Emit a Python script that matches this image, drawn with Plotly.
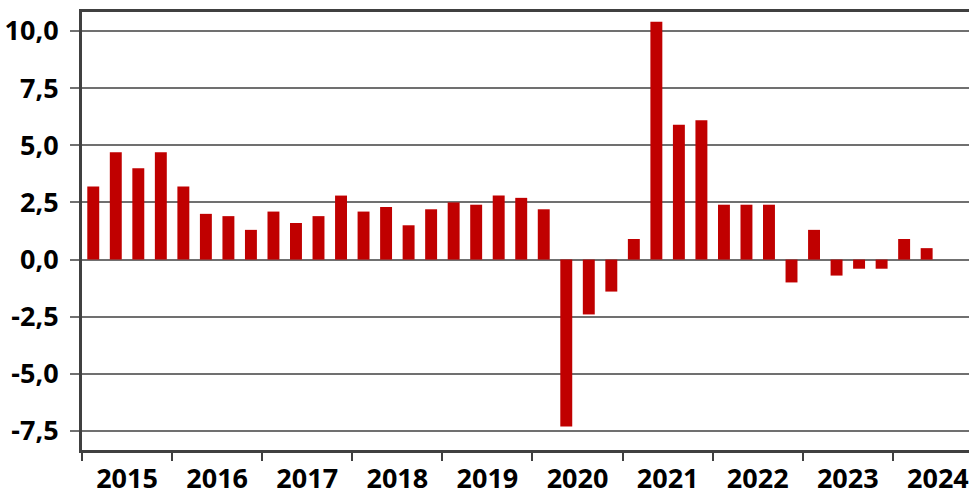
import plotly.graph_objects as go

# quarterly growth, 2015 Q1 .. 2024 Q2
years = [2015, 2016, 2017, 2018, 2019, 2020, 2021, 2022, 2023, 2024]
values = [
    3.2, 4.7, 4.0, 4.7,
    3.2, 2.0, 1.9, 1.3,
    2.1, 1.6, 1.9, 2.8,
    2.1, 2.3, 1.5, 2.2,
    2.5, 2.4, 2.8, 2.7,
    2.2, -7.3, -2.4, -1.4,
    0.9, 10.4, 5.9, 6.1,
    2.4, 2.4, 2.4, -1.0,
    1.3, -0.7, -0.4, -0.4,
    0.9, 0.5,
]
y_ticks = [-7.5, -5.0, -2.5, 0.0, 2.5, 5.0, 7.5, 10.0]

quarter_idx = list(range(len(values)))
year_centers = [i * 4 + 1.5 for i in range(len(years))]
y_text = [f"{v:.1f}".replace(".", ",") for v in y_ticks]

font = dict(family="Noto Sans", size=27, color="black")
axis_col = "#404040"
grid_col = "#707070"

fig = go.Figure(go.Bar(
    x=quarter_idx, y=values, width=0.53,
    marker=dict(color="#C00000", line=dict(width=0)),
))

fig.update_layout(
    width=969, height=489,
    margin=dict(l=82, r=0, t=12, b=39),
    plot_bgcolor="white", paper_bgcolor="white",
    showlegend=False,
    font=font,
)

fig.update_xaxes(
    range=[-0.5, 38.88], automargin=False,
    tickvals=year_centers, ticktext=[f"<b>{y}</b>" for y in years],
    ticks="", showgrid=False,
    showline=True, linewidth=3, linecolor=axis_col, mirror=True,
    minor=dict(ticks="outside", tick0=-0.5, dtick=4, ticklen=8,
               tickcolor=axis_col, tickwidth=1.5, showgrid=False),
    ticklabelstandoff=3,
)
fig.update_yaxes(
    range=[-8.33, 10.83], automargin=False,
    tickvals=y_ticks, ticktext=[f"<b>{t}</b>" for t in y_text],
    ticks="outside", ticklen=9, tickcolor=grid_col, tickwidth=1.5,
    showgrid=True, gridcolor=grid_col, gridwidth=1.5,
    zeroline=False,
    showline=True, linewidth=3, linecolor=axis_col,
    ticklabelstandoff=6,
)

# drop the default page margin so the figure sits at the window's corner
fig.write_html("out.html", config={"displayModeBar": False},
               post_script="document.body.style.margin='0';")
